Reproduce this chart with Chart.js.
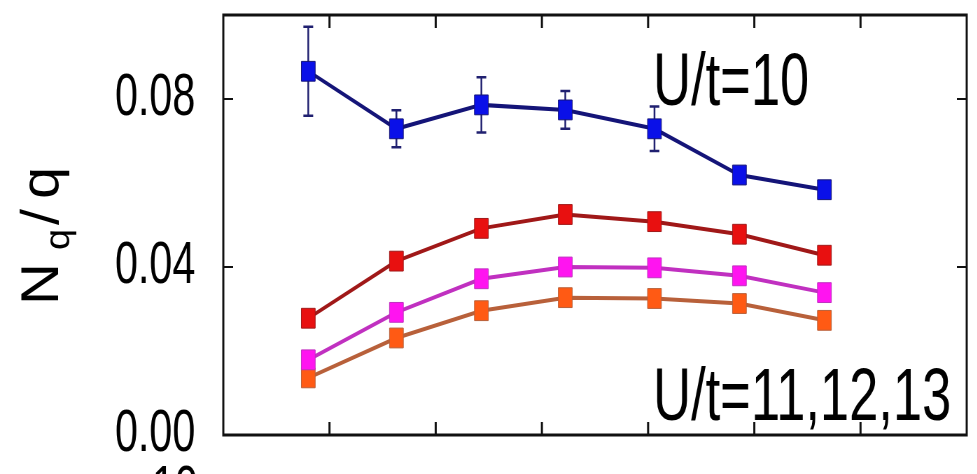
<!DOCTYPE html>
<html>
<head>
<meta charset="utf-8">
<script src="https://cdn.jsdelivr.net/npm/chart.js@4"></script>
<style>
  html, body { margin: 0; padding: 0; background: #fff; overflow: hidden; }
  /* the original figure is squeezed sideways, so draw wide and squeeze */
  #wrap { width: 1396px; height: 474px; transform: scaleX(0.7); transform-origin: 0 0; }
</style>
</head>
<body>
<div id="wrap"><canvas id="chart"></canvas></div>
<script>
// positions along the (unlabelled) x axis
const xValues = [0.80, 1.63, 2.43, 3.22, 4.06, 4.86, 5.66];

// N_q/q for each U/t
const u10 = [0.0866, 0.0729, 0.0786, 0.0774, 0.0729, 0.0619, 0.0584];
const u10Err = [0.0106, 0.0044, 0.0066, 0.0045, 0.0053, 0, 0];
const u11 = [0.0278, 0.0414, 0.0492, 0.0525, 0.0508, 0.0478, 0.0428];
const u12 = [0.0179, 0.0292, 0.0372, 0.0400, 0.0398, 0.0379, 0.0339];
const u13 = [0.0136, 0.0231, 0.0296, 0.0327, 0.0325, 0.0313, 0.0273];

const yLabelValues = [0, 0.04, 0.08];

const FONT = '"Liberation Sans", Arial, sans-serif';

function pts(vals) {
  return vals.map((v, i) => ({ x: xValues[i], y: v }));
}

function series(label, vals, fill, line) {
  return {
    label: label,
    data: pts(vals),
    showLine: true,
    borderColor: line,
    borderWidth: 4,
    backgroundColor: fill,
    pointStyle: 'rect',
    pointRadius: 14,
    pointBorderColor: line,
    pointBorderWidth: 1,
    pointBackgroundColor: fill,
    tension: 0
  };
}

// error bars, box, inward ticks and the text pieces
const decorations = {
  id: 'decorations',
  beforeDatasetsDraw(chart) {
    const ctx = chart.ctx;
    const y = chart.scales.y;
    const meta = chart.getDatasetMeta(0);
    ctx.save();
    ctx.strokeStyle = '#202070';
    ctx.lineWidth = 2.5;
    meta.data.forEach((p, i) => {
      const e = u10Err[i];
      if (!e) return;
      const top = y.getPixelForValue(u10[i] + e);
      const bot = y.getPixelForValue(u10[i] - e);
      ctx.beginPath();
      ctx.moveTo(p.x, top); ctx.lineTo(p.x, bot);
      ctx.moveTo(p.x - 7, top); ctx.lineTo(p.x + 7, top);
      ctx.moveTo(p.x - 7, bot); ctx.lineTo(p.x + 7, bot);
      ctx.stroke();
    });
    ctx.restore();
  },
  afterDraw(chart) {
    const ctx = chart.ctx;
    const a = chart.chartArea;
    const xs = chart.scales.x;
    const ys = chart.scales.y;
    ctx.save();
    ctx.strokeStyle = '#111';
    ctx.lineWidth = 3;
    ctx.strokeRect(a.left, a.top, a.right - a.left, a.bottom - a.top);

    ctx.lineWidth = 3;
    xs.ticks.forEach(t => {
      if (t.value <= xs.min || t.value >= xs.max) return;
      const px = xs.getPixelForValue(t.value);
      ctx.beginPath();
      ctx.moveTo(px, a.top); ctx.lineTo(px, a.top + 13);
      ctx.moveTo(px, a.bottom); ctx.lineTo(px, a.bottom - 13);
      ctx.stroke();
    });
    ctx.lineWidth = 2;
    ys.ticks.forEach(t => {
      if (t.value <= ys.min || t.value >= ys.max) return;
      const py = ys.getPixelForValue(t.value);
      ctx.beginPath();
      ctx.moveTo(a.left, py); ctx.lineTo(a.left + 14, py);
      ctx.moveTo(a.right, py); ctx.lineTo(a.right - 14, py);
      ctx.stroke();
    });

    ctx.fillStyle = '#000';
    ctx.textBaseline = 'alphabetic';
    ctx.textAlign = 'left';
    ctx.font = '75px ' + FONT;
    ctx.fillText('U/t=10', 933, 105);
    ctx.fillText('U/t=11,12,13', 933, 420);

    // cut-off label of the panel underneath
    ctx.font = '59px ' + FONT;
    ctx.fillText('10', 217, 507);

    // y title N_q/q, rotated
    ctx.translate(83, 305);
    ctx.rotate(-Math.PI / 2);
    ctx.scale(1, 1.3);
    ctx.font = '58px ' + FONT;
    ctx.fillText('N', 0, 0);
    ctx.font = '38px ' + FONT;
    ctx.fillText('q', 55, 12);
    ctx.font = '58px ' + FONT;
    ctx.fillText('/', 80, 0);
    ctx.fillText('q', 106, 0);
    ctx.restore();
  }
};

new Chart(document.getElementById('chart'), {
  type: 'scatter',
  data: {
    datasets: [
      series('U/t=10', u10, '#0a10e8', '#141478'),
      series('U/t=11', u11, '#e81010', '#a01818'),
      series('U/t=12', u12, '#ff14f0', '#c030c0'),
      series('U/t=13', u13, '#ff5a14', '#b8603a')
    ]
  },
  options: {
    responsive: true,
    maintainAspectRatio: false,
    animation: false,
    layout: { padding: { left: 164, right: 7, top: 10, bottom: 39 } },
    plugins: { legend: { display: false }, tooltip: { enabled: false } },
    scales: {
      x: {
        type: 'linear', min: 0, max: 7, display: false,
        ticks: { stepSize: 1 }
      },
      y: {
        min: 0, max: 0.1,
        grid: { display: false, drawTicks: false },
        border: { display: false },
        afterFit: s => { s.width = 155; s.paddingTop = 0; s.paddingBottom = 0; },
        ticks: {
          stepSize: 0.008,
          padding: 40,
          color: '#000',
          font: { family: FONT, size: 59 },
          callback: v => {
            const hit = yLabelValues.find(l => Math.abs(l - v) < 1e-6);
            return hit === undefined ? null : hit.toFixed(2);
          }
        }
      }
    }
  },
  plugins: [decorations]
});
</script>
</body>
</html>
